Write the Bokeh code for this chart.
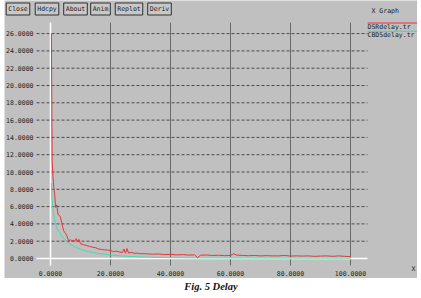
from bokeh.plotting import figure
from bokeh.models import Range1d, Label, ColumnDataSource
from bokeh.layouts import column
from bokeh.embed import file_html
from bokeh.resources import INLINE
from bokeh.core.properties import value

# ---- data ----
dsr_x = [0.3, 0.4, 0.55, 0.8, 1.1, 1.4, 1.7, 2.1, 2.5, 2.9, 3.3, 3.7, 4.1, 4.4, 4.8, 5.2, 5.6, 6.1,
         6.6, 7.1, 7.6, 8.1, 8.6, 9.0, 9.5, 10.0, 11, 12, 13, 14, 15, 16, 17, 18, 19, 20, 21, 22, 23,
         24, 24.5, 25, 25.5, 26, 27, 28, 29, 30, 32, 34, 36, 38, 40, 42, 44, 46, 48, 49, 50, 52, 54,
         56, 58, 60, 61, 62, 64, 66, 68, 70, 72, 74, 76, 78, 80, 82, 84, 86, 88, 90, 92, 94, 96, 98, 100]
dsr_y = [26.0, 20.0, 11.3, 9.5, 8.2, 7.4, 5.9, 6.2, 5.1, 5.0, 4.8, 4.2, 3.6, 3.2, 3.0, 2.8, 2.5, 1.9,
         2.2, 2.0, 2.1, 2.0, 2.3, 1.9, 2.2, 1.7, 1.6, 1.5, 1.4, 1.3, 1.25, 1.1, 1.05, 1.0, 0.98, 0.92,
         0.8, 0.85, 0.75, 0.7, 1.1, 0.6, 1.15, 0.65, 0.7, 0.6, 0.62, 0.55, 0.55, 0.5, 0.52, 0.45, 0.48,
         0.42, 0.45, 0.4, 0.42, 0.1, 0.38, 0.4, 0.35, 0.38, 0.33, 0.35, 0.55, 0.4, 0.35, 0.32, 0.35,
         0.3, 0.33, 0.3, 0.3, 0.35, 0.28, 0.3, 0.28, 0.3, 0.25, 0.28, 0.3, 0.25, 0.3, 0.25, 0.22]
cbds_x = [0.3, 0.5, 0.8, 1.1, 1.5, 2.0, 2.5, 3.0, 3.5, 4.0, 5.0, 6.0, 7.0, 8.0, 10, 12, 14, 16, 18,
          20, 25, 30, 35, 40, 50, 60, 70, 80, 90, 100]
cbds_y = [8.7, 7.0, 5.8, 5.0, 4.3, 3.7, 3.3, 3.0, 2.7, 2.5, 2.1, 1.8, 1.55, 1.35, 1.05, 0.85, 0.7,
          0.58, 0.48, 0.4, 0.26, 0.18, 0.13, 0.1, 0.07, 0.06, 0.05, 0.05, 0.04, 0.04]
x_ticks = [0, 20, 40, 60, 80, 100]
y_ticks = [0, 2, 4, 6, 8, 10, 12, 14, 16, 18, 20, 22, 24, 26]
series_names = ["DSRdelay.tr", "CBDSdelay.tr"]
buttons = ["Close", "Hdcpy", "About", "Anim", "Replot", "Deriv"]
caption = "Fig. 5 Delay"

# ---- style ----
GRAY = "#c0c0c0"
RED = "#e8343c"
GREEN = "#48dca8"
TXT = "#1e1e1e"
MONO = "DejaVu Sans Mono"
FS = "6.5px"

# page-pixel -> data helpers (xgraph-like panel layout)
X0_PX, X_SCALE = 50.0, 3.0
Y0_PX, Y_SCALE = 258.0, 8.65
def dx(px):
    return (px - X0_PX) / X_SCALE
def dy(py):
    return (Y0_PX - py) / Y_SCALE

PLOT_L, PLOT_R, PLOT_T, PLOT_B = dx(36), dx(367), dy(22), dy(265)

# the whole gray panel is the frame: page x 4..417, y 0..278
p = figure(width=413, height=278,
           x_range=Range1d(dx(4), dx(417)), y_range=Range1d(dy(278), dy(0)),
           output_backend="svg", toolbar_location=None, min_border=0,
           x_axis_location=None, y_axis_location=None)
p.margin = (0, 4, 0, 4)
p.background_fill_color = GRAY
p.border_fill_color = GRAY
p.outline_line_color = None
p.grid.visible = False

# grid lines
vx = [t for t in x_ticks if t != 0]
p.segment(x0=vx, y0=[PLOT_B] * len(vx), x1=vx, y1=[PLOT_T] * len(vx),
          line_color="#6a6a6a", line_width=1)
hy = [t for t in y_ticks if t != 0]
p.segment(x0=[PLOT_L] * len(hy), y0=hy, x1=[PLOT_R] * len(hy), y1=hy,
          line_color="#4a4a4a", line_width=1, line_dash="3 2")
# white zero axes
p.segment(x0=[0, PLOT_L], y0=[PLOT_B, 0], x1=[0, PLOT_R], y1=[PLOT_T, 0],
          line_color="white", line_width=1.5)

# tick labels
xs = ColumnDataSource(dict(x=x_ticks, y=[dy(273)] * len(x_ticks),
                           t=["%.4f" % v for v in x_ticks]))
p.text(x="x", y="y", text="t", source=xs, text_font=value(MONO), text_font_size=value(FS),
       text_color=TXT, text_align="center", text_baseline="middle")
ys = ColumnDataSource(dict(x=[dx(33)] * len(y_ticks), y=y_ticks,
                           t=["%.4f" % v for v in y_ticks]))
p.text(x="x", y="y", text="t", source=ys, text_font=value(MONO), text_font_size=value(FS),
       text_color=TXT, text_align="right", text_baseline="middle")

# series
p.line(cbds_x, cbds_y, line_color=GREEN, line_width=1)
p.line(dsr_x, dsr_y, line_color=RED, line_width=1)

# legend (xgraph style, top right)
p.add_layout(Label(x=dx(371), y=dy(10), text="X Graph", text_font=MONO, text_font_size=FS,
                   text_color=TXT, text_baseline="middle", text_align="left"))
leg_colors = [RED, GREEN]
for i, (name, col) in enumerate(zip(series_names, leg_colors)):
    ly = 22.5 + i * 8.3
    p.segment(x0=[dx(367)], y0=[dy(ly)], x1=[dx(417)], y1=[dy(ly)], line_color=col, line_width=1.2)
    p.add_layout(Label(x=dx(367), y=dy(ly + 3.6), text=name, text_font=MONO, text_font_size=FS,
                       text_color=TXT, text_baseline="middle", text_align="left"))

# buttons
bx = [17.5, 46.5, 75, 100, 128.5, 159]
for b, cx in zip(buttons, bx):
    p.add_layout(Label(x=dx(cx), y=dy(8.5), text=b, text_font=MONO, text_font_size=FS,
                       text_color=TXT, text_align="center", text_baseline="middle",
                       border_line_color="#303030", border_line_width=1,
                       background_fill_color="#c8c8c8", padding=2))

p.add_layout(Label(x=dx(413), y=dy(268), text="X", text_font=MONO, text_font_size=FS,
                   text_color=TXT, text_align="center", text_baseline="middle"))

cap = figure(width=421, height=20, x_range=Range1d(0, 1), y_range=Range1d(0, 1),
             output_backend="svg", toolbar_location=None, min_border=0,
             x_axis_location=None, y_axis_location=None)
cap.outline_line_color = None
cap.grid.visible = False
cap.background_fill_color = "white"
cap.border_fill_color = "white"
cap.add_layout(Label(x=0.5, y=0.62, text=caption, text_font="Liberation Serif",
                     text_font_style="bold italic", text_font_size="10.5px", text_color="#111111",
                     text_align="center", text_baseline="middle"))

layout = column(p, cap, spacing=0)
open("out.html", "w").write(file_html(layout, INLINE))
